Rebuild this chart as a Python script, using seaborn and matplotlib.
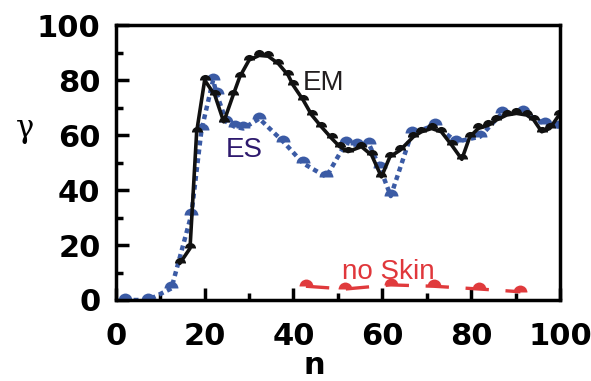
import matplotlib
matplotlib.use("Agg")
import matplotlib.pyplot as plt
import seaborn as sns
from matplotlib.ticker import MultipleLocator

# ── Data ─────────────────────────────────────────────────────
em_n = [14.4, 16.7, 18.2, 20.0, 22.3, 24.3, 26.4, 27.9, 30.0, 32.3, 34.3,
        36.6, 38.8, 39.9, 42.2, 44.1, 46.3, 48.6, 50.4, 52.3, 55.3, 57.6,
        59.8, 61.7, 64.0, 67.0, 68.8, 71.1, 73.3, 75.6, 77.9, 79.7, 81.6,
        83.9, 85.7, 88.0, 90.2, 92.5, 94.1, 95.9, 97.7, 99.8]
em_g = [13.3, 18.8, 61.2, 80.0, 74.5, 64.8, 74.5, 81.2, 87.3, 89.0, 88.7,
        86.0, 81.8, 78.2, 72.7, 67.3, 63.0, 58.8, 55.8, 54.0, 55.8, 52.7,
        44.8, 52.1, 54.5, 59.4, 61.2, 62.4, 61.2, 56.4, 51.2, 59.4, 62.4,
        63.6, 65.5, 67.3, 67.9, 67.3, 65.5, 61.2, 62.4, 67.3]

es_n = [2.0, 7.3, 12.5, 17.0, 19.3, 21.9, 22.7, 24.9, 26.8, 28.7, 32.3,
        37.7, 42.2, 47.4, 51.8, 54.2, 57.0, 59.5, 61.9, 66.6, 71.8, 76.7,
        82.0, 86.9, 91.7, 96.6, 99.8]
es_g = [0.0, 0.0, 4.2, 31.0, 62.0, 80.0, 75.0, 64.8, 63.0, 62.4, 66.0,
        57.6, 49.7, 44.8, 57.2, 56.4, 56.7, 48.0, 37.8, 60.6, 63.6, 57.6,
        59.4, 67.9, 68.5, 64.0, 63.0]

ns_n = [42.8, 51.7, 61.9, 71.6, 81.8, 91.1]
ns_g = [5.0, 4.0, 5.5, 5.0, 4.0, 3.0]

x_ticks = [0, 20, 40, 60, 80, 100]
y_ticks = [0, 20, 40, 60, 80, 100]

# ── Style ────────────────────────────────────────────────────
sns.set_theme(style="ticks")
plt.rcParams["font.family"] = ["DejaVu Sans"]
plt.rcParams["text.color"] = "black"
plt.rcParams["xtick.labelcolor"] = "black"
plt.rcParams["ytick.labelcolor"] = "black"

fig = plt.figure(figsize=(5.91, 3.81), dpi=100)
ax = fig.add_axes([0.196, 0.2126, 0.7515, 0.7214])

sns.lineplot(x=es_n, y=es_g, ax=ax, color="#3b5ba5", linewidth=3.2,
             linestyle=(0, (1.1, 0.9)), marker="o", markersize=10,
             fillstyle="top", markeredgewidth=0, legend=False)
sns.lineplot(x=em_n, y=em_g, ax=ax, color="#111111", linewidth=2.6,
             marker="o", markersize=8, fillstyle="top",
             markeredgewidth=0, legend=False)
sns.lineplot(x=ns_n, y=ns_g, ax=ax, color="#e03a3c", linewidth=2.4,
             linestyle=(0, (7, 5)), marker="o", markersize=10,
             fillstyle="top", markeredgewidth=0, legend=False)

ax.text(42.0, 79, "EM", color="#231f20", fontsize=20, va="center",
        family="Liberation Sans")
ax.text(24.8, 54.5, "ES", color="#2e1a6e", fontsize=20, va="center",
        family="Liberation Sans")
ax.text(51.0, 10.3, "no Skin", color="#e0373b", fontsize=20, va="center",
        family="Liberation Sans")

ax.set_xlim(0, 100)
ax.set_ylim(0, 100)
ax.set_xticks(x_ticks)
ax.set_yticks(y_ticks)
ax.xaxis.set_minor_locator(MultipleLocator(10))
ax.yaxis.set_minor_locator(MultipleLocator(10))
ax.tick_params(which="both", direction="in", color="black", width=2.5,
               labelsize=22, top=False, right=False)
ax.tick_params(axis="x", which="major", length=9, pad=16)
ax.tick_params(axis="x", which="minor", length=5)
ax.tick_params(axis="y", which="major", length=9, pad=11)
ax.tick_params(axis="y", which="minor", length=5)
for lab in ax.get_xticklabels() + ax.get_yticklabels():
    lab.set_fontweight("bold")

for sp in ax.spines.values():
    sp.set_visible(True)
    sp.set_color("black")
    sp.set_linewidth(2.5)

ax.set_xlabel("")
ax.set_ylabel("")
fig.text(314 / 591, 1 - 365 / 381, "n", fontsize=22, fontweight="bold",
         ha="center", va="center")
fig.text(25 / 591, 1 - 128 / 381, "γ", fontsize=22, ha="center",
         va="center", family="DejaVu Serif")

fig.savefig("out.png", dpi=100)
